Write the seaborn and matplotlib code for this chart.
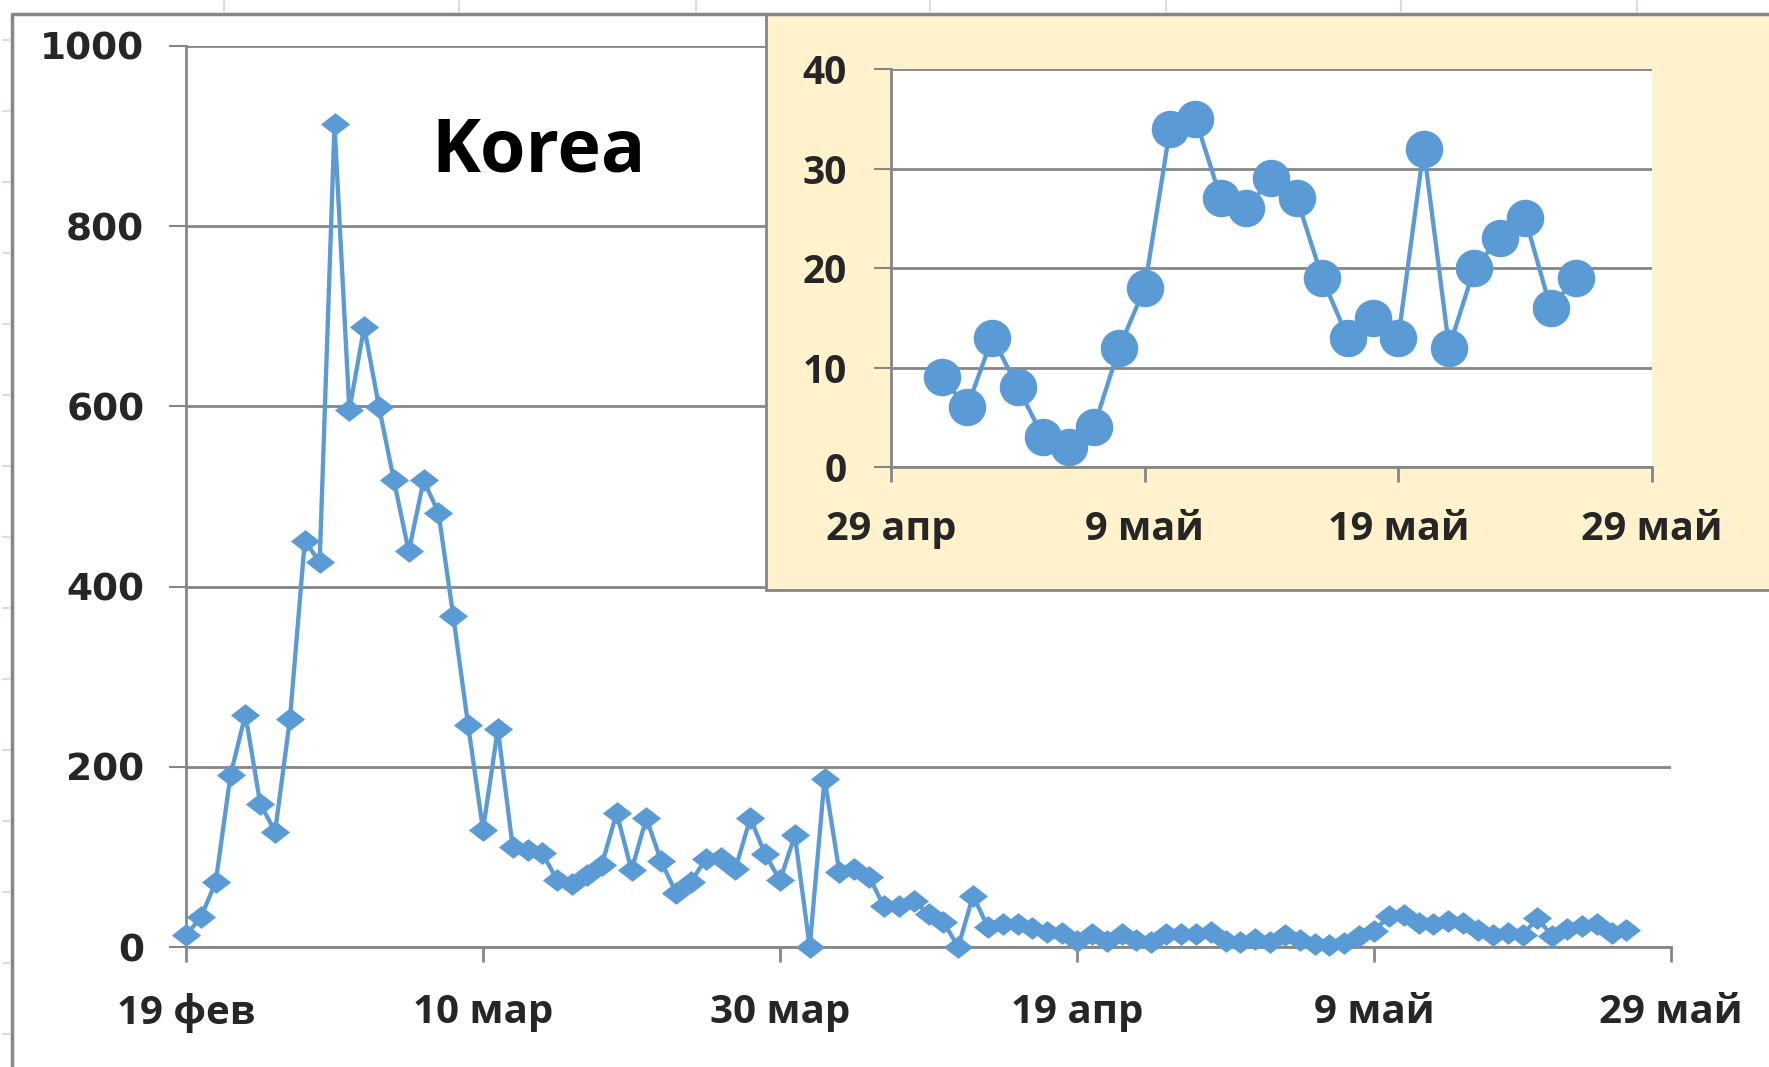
import matplotlib
matplotlib.use("Agg")
import matplotlib.dates as mdates
import matplotlib.pyplot as plt
import pandas as pd
import seaborn as sns
from matplotlib.lines import Line2D
from matplotlib.patches import Rectangle

# Daily new cases, Korea, one value per day from 19 Feb 2020
start_date = "2020-02-19"
daily_cases = [
    13, 33, 72, 191, 258, 159, 128, 253, 451, 427,
    913, 596, 688, 599, 518, 439, 518, 482, 367, 246,
    130, 242, 111, 108, 104, 74, 70, 80, 91, 149,
    85, 143, 95, 60, 72, 98, 99, 87, 143, 103,
    74, 124, 0, 187, 83, 87, 78, 45, 45, 51,
    37, 28, 0, 57, 22, 26, 26, 21, 17, 16,
    7, 14, 7, 14, 8, 5, 14, 14, 14, 17,
    7, 5, 9, 6, 13, 8, 3, 2, 4, 12,
    18, 34, 35, 27, 26, 29, 27, 19, 13, 15,
    13, 32, 12, 20, 23, 25, 16, 19,
]

main_tick_dates = ["2020-02-19", "2020-03-10", "2020-03-30", "2020-04-19", "2020-05-09", "2020-05-29"]
main_tick_labels = ["19 фев", "10 мар", "30 мар", "19 апр", "9 май", "29 май"]
main_yticks = [0, 200, 400, 600, 800, 1000]

inset_start = "2020-05-01"
inset_tick_dates = ["2020-04-29", "2020-05-09", "2020-05-19", "2020-05-29"]
inset_tick_labels = ["29 апр", "9 май", "19 май", "29 май"]
inset_yticks = [0, 10, 20, 30, 40]

title = "Korea"

BLUE = "#5B9BD5"
GREY = "#868686"
CELL = "#D5DDEA"
INSET_BG = "#FFF2CC"
TEXT_FONT = ["Open Sans", "DejaVu Sans"]

df = pd.DataFrame({
    "date": pd.date_range(start_date, periods=len(daily_cases), freq="D"),
    "cases": daily_cases,
})
inset_df = df[df["date"] >= pd.Timestamp(inset_start)]

sns.set_style("white")
plt.rcParams["font.family"] = TEXT_FONT

W, H = 1769, 1067
fig = plt.figure(figsize=(W / 100, H / 100), dpi=100)


def fx(px):
    return px / W


def fy(py):
    return 1 - py / H


def style_axis(axis, ylabel_font, ysize, xsize, ypad, xpad):
    for side in ["top", "right"]:
        axis.spines[side].set_visible(False)
    for side in ["left", "bottom"]:
        axis.spines[side].set_color(GREY)
        axis.spines[side].set_linewidth(2)
    axis.grid(axis="y", color=GREY, linewidth=2)
    axis.grid(axis="x", visible=False)
    axis.set_axisbelow(True)
    axis.tick_params(axis="y", direction="out", length=12, width=1.5, color=GREY,
                     pad=ypad, left=True)
    axis.tick_params(axis="x", direction="out", length=11, width=2, color=GREY,
                     pad=xpad, bottom=True)
    for lab in axis.get_yticklabels():
        lab.set_fontfamily(ylabel_font)
        lab.set_fontweight("bold")
        lab.set_fontsize(ysize)
    for lab in axis.get_xticklabels():
        lab.set_fontfamily(TEXT_FONT)
        lab.set_fontweight("bold")
        lab.set_fontsize(xsize)
    axis.set_xlabel("")
    axis.set_ylabel("")


# main chart
ax = fig.add_axes([fx(186), fy(947), fx(1671) - fx(186), fy(46) - fy(947)], zorder=0)
diamond = [(-1, 0), (0, 0.78), (1, 0), (0, -0.78)]
sns.lineplot(data=df, x="date", y="cases", ax=ax, color=BLUE, linewidth=3.1,
             marker=diamond, markersize=21, markeredgewidth=0, markeredgecolor=BLUE,
             clip_on=False, zorder=3)
ax.set_xlim(pd.Timestamp(main_tick_dates[0]), pd.Timestamp(main_tick_dates[-1]))
ax.set_ylim(main_yticks[0], main_yticks[-1])
ax.set_yticks(main_yticks)
ax.set_xticks(mdates.date2num(pd.to_datetime(main_tick_dates)))
ax.set_xticklabels(main_tick_labels)
style_axis(ax, "DejaVu Sans", 27, 29, 18, 22)

fig.text(fx(539), fy(152), title, fontsize=53, fontweight="bold",
         ha="center", va="center", color="black")

# inset background panel
fig.add_artist(Rectangle((fx(766), fy(590)), 1.0, fy(14) - fy(590),
                         transform=fig.transFigure, facecolor=INSET_BG,
                         edgecolor=GREY, linewidth=2, zorder=1))

# inset chart
axin = fig.add_axes([fx(891), fy(467), fx(1652) - fx(891), fy(69) - fy(467)], zorder=2)
axin.set_facecolor("white")
sns.lineplot(data=inset_df, x="date", y="cases", ax=axin, color=BLUE, linewidth=3.1,
             marker="o", markersize=27, markeredgewidth=0, markeredgecolor=BLUE,
             clip_on=False, zorder=3)
axin.set_xlim(pd.Timestamp(inset_tick_dates[0]), pd.Timestamp(inset_tick_dates[-1]))
axin.set_ylim(inset_yticks[0], inset_yticks[-1])
axin.set_yticks(inset_yticks)
axin.set_xticks(mdates.date2num(pd.to_datetime(inset_tick_dates)))
axin.set_xticklabels(inset_tick_labels)
style_axis(axin, TEXT_FONT, 28, 28.5, 20, 20)

# spreadsheet frame around the chart object
fig.add_artist(Line2D([fx(12), fx(12), 1.0], [0.0, fy(14), fy(14)],
                      transform=fig.transFigure, color=GREY, linewidth=2.5, zorder=4))
for cx in [224, 459, 696, 930, 1166, 1401, 1637]:
    fig.add_artist(Line2D([fx(cx), fx(cx)], [fy(12), 1.0], transform=fig.transFigure,
                          color=CELL, linewidth=1.5, zorder=4))
for ry in range(40, H, 71):
    fig.add_artist(Line2D([fx(3), fx(10)], [fy(ry), fy(ry)], transform=fig.transFigure,
                          color=CELL, linewidth=1.5, zorder=4))

plt.savefig("out.png", dpi=100)
